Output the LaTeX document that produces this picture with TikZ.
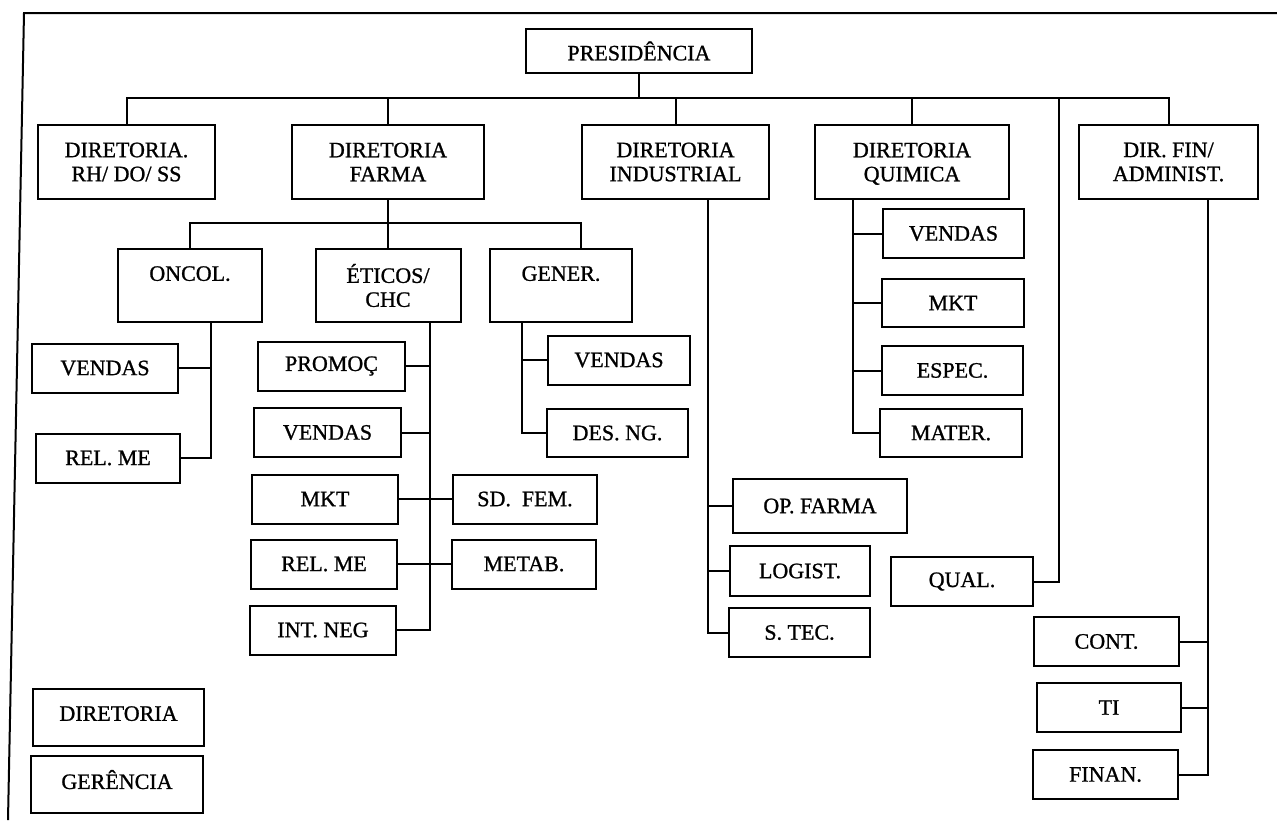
\documentclass[tikz,border=0pt]{standalone}
\usepackage{fontspec}
\setmainfont[FakeBold=1]{Liberation Serif}
\tikzset{
  box/.style={draw, inner sep=1pt, align=center, font=\fontsize{11}{12}\selectfont},
  dirbox/.style={box, minimum height=37pt},
  unit/.style={box, minimum width=72pt, minimum height=24.5pt},
}
\begin{document}
\begin{tikzpicture}[x=0.5pt, y=-0.5pt, line width=1pt]
  \useasboundingbox (0,0) rectangle (1277,820);
  % frame
  \draw (8,820) -- (24,13) -- (1277,13);

  % top levels
  \node[box, minimum width=113pt, minimum height=22pt] (pres) at (639,51) {PRESIDÊNCIA};
  \node[dirbox, minimum width=88.5pt] (rh) at (126.5,162) {DIRETORIA.\\RH/ DO/ SS};
  \node[dirbox, minimum width=96pt] (farma) at (388,162) {DIRETORIA\\FARMA};
  \node[dirbox, minimum width=93.5pt] (indus) at (675.5,162) {DIRETORIA\\INDUSTRIAL};
  \node[dirbox, minimum width=97pt] (quim) at (912,162) {DIRETORIA\\\smash{QUIMICA}};
  \node[dirbox, minimum width=89.5pt] (dirfin) at (1168.5,162) {DIR. FIN/\\ADMINIST.};

  \coordinate (bus) at (0,98);
  \draw (pres.south) -- (pres.south |- bus);
  \draw (rh.north) -- (rh.north |- bus) -- (dirfin.north |- bus) -- (dirfin.north);
  \foreach \n in {farma,indus,quim} \draw (\n.north) -- (\n.north |- bus);

  % farma units
  \node[dirbox, minimum width=72pt, minimum height=36.5pt] (oncol) at (190,285.5) {ONCOL.\\\mbox{}};
  \node[dirbox, minimum width=72.5pt, minimum height=36.5pt] (eticos) at (388,285.5) {ÉTICOS/\\CHC};
  \node[dirbox, minimum width=71pt, minimum height=36.5pt] (gener) at (561,285.5) {GENER.\\\mbox{}};

  \coordinate (fbus) at (0,223);
  \coordinate (generdrop) at (581,249);
  \draw (farma.south) -- (eticos.north);
  \draw (oncol.north) |- (generdrop |- fbus) -- (generdrop);

  % oncol
  \node[unit, minimum width=73pt] (ovendas) at (105,368) {VENDAS};
  \node[unit] (orelme) at (108,458) {REL. ME};
  \coordinate (oncline) at (211,322);
  \draw (oncline) |- (orelme.east);
  \draw (ovendas.east) -- (ovendas.east -| oncline);

  % eticos
  \node[unit, minimum width=73.5pt] (promoc) at (331.5,366) {PROMOÇ};
  \node[unit, minimum width=73.5pt] (evendas) at (327.5,432.5) {VENDAS};
  \node[unit, minimum width=73pt] (emkt) at (325,499) {MKT};
  \node[unit, minimum width=73pt] (erelme) at (324,564) {REL. ME};
  \node[unit, minimum width=73pt] (intneg) at (323,630) {INT. NEG};
  \node[unit] (sdfem) at (525,499) {SD.\ \ FEM.};
  \node[unit] (metab) at (524,564) {METAB.};
  \coordinate (etiline) at (430,322);
  \draw (etiline) |- (intneg.east);
  \foreach \n in {promoc,evendas} \draw (\n.east) -- (\n.east -| etiline);
  \draw (emkt.east) -- (sdfem.west);
  \draw (erelme.east) -- (metab.west);

  % gener
  \node[unit, minimum width=71pt] (gvendas) at (619,360) {VENDAS};
  \node[unit, minimum width=70.5pt, minimum height=24pt] (desng) at (617.5,433) {DES. NG.};
  \coordinate (genline) at (522,322);
  \draw (genline) |- (desng.west);
  \draw (gvendas.west) -- (gvendas.west -| genline);

  % industrial
  \node[unit, minimum width=87pt, minimum height=27pt] (opfarma) at (820,506) {OP. FARMA};
  \node[unit, minimum width=70pt, minimum height=25pt] (logist) at (800,571) {LOGIST.};
  \node[unit, minimum width=70.5pt] (stec) at (799.5,632.5) {S. TEC.};
  \coordinate (indline) at (708,199);
  \draw (indline) |- (stec.west);
  \foreach \n in {opfarma,logist} \draw (\n.west) -- (\n.west -| indline);

  % quimica
  \node[unit, minimum width=70.5pt] (qvendas) at (953.5,233.5) {VENDAS};
  \node[unit, minimum width=71pt, minimum height=24pt] (qmkt) at (953,303) {MKT};
  \node[unit, minimum width=70.5pt] (espec) at (952.5,370.5) {ESPEC.};
  \node[unit, minimum width=71pt, minimum height=24pt] (mater) at (951,433) {MATER.};
  \coordinate (quiline) at (853,199);
  \draw (quiline) |- (mater.west);
  \foreach \n in {qvendas,qmkt,espec} \draw (\n.west) -- (\n.west -| quiline);

  % qualidade
  \node[unit, minimum width=71pt] (qual) at (962,581.5) {QUAL.};
  \coordinate (qualline) at (1059,98);
  \draw (qual.east) -| (qualline);

  % fin / adm
  \node[unit, minimum width=72.5pt] (cont) at (1106.5,641.5) {CONT.};
  \node[unit] (ti) at (1109,707.5) {TI};
  \node[unit, minimum width=72.5pt] (finan) at (1105.5,774.5) {FINAN.};
  \coordinate (finline) at (1208,199);
  \draw (finline) |- (finan.east);
  \foreach \n in {cont,ti} \draw (\n.east) -- (\n.east -| finline);

  % legend
  \node[box, minimum width=85.5pt, minimum height=28.5pt, text depth=4pt] (legdir) at (118.5,717.5) {DIRETORIA};
  \node[box, minimum width=86pt, minimum height=28.5pt, text depth=5pt] (legger) at (117,784.5) {GERÊNCIA};
\end{tikzpicture}
\end{document}
